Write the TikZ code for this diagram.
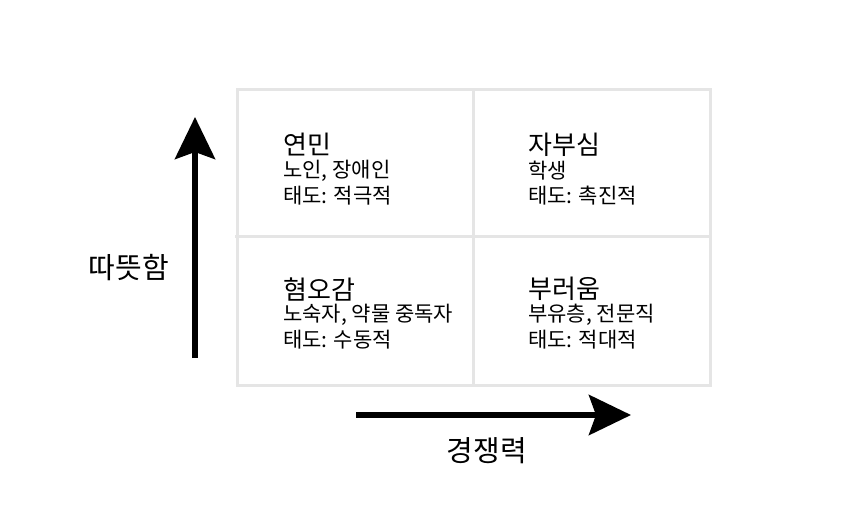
\documentclass[tikz,border=0pt]{standalone}
\usepackage{fontspec}
\setmainfont{Noto Sans CJK KR}
\usetikzlibrary{arrows.meta}
\begin{document}
\begin{tikzpicture}[x=1pt,y=-1pt,line join=miter,
  grid/.style={draw=black!10,line width=3pt},
  axis/.style={line width=6pt,-{Stealth[length=42pt,width=40pt,inset=7pt]}},
  head/.style={anchor=west,inner sep=0pt,font=\fontsize{26}{30}\selectfont},
  body/.style={anchor=west,inner sep=0pt,font=\fontsize{21}{25}\selectfont},
  axislabel/.style={inner sep=0pt,font=\fontsize{29}{33}\selectfont}]
  \useasboundingbox (0,0) rectangle (860,520);
  % quadrant grid
  \draw[grid] (237,89) rectangle (710,385);
  \draw[grid] (473,89)--(473,385);
  \draw[grid] (235,236)--(710,236);
  % axes
  \coordinate (wlo) at (195,358);
  \coordinate (whi) at (195,117);
  \coordinate (clo) at (356,415);
  \coordinate (chi) at (631,415);
  \draw[axis] (wlo)--(whi);
  \draw[axis] (clo)--(chi);
  \node[axislabel] (warmth) at (129,268) {따뜻함};
  \node[axislabel] (compet) at (487,451) {경쟁력};
  % upper left
  \node[head] (pity) at (283,145) {연민};
  \node[body] (pityA) at (283,171) {노인, 장애인};
  \node[body] (pityB) at (283,196) {태도: 적극적};
  % upper right
  \node[head] (pride) at (528,145) {자부심};
  \node[body] (prideA) at (528,171) {학생};
  \node[body] (prideB) at (528,196) {태도: 촉진적};
  % lower left
  \node[head] (disgust) at (283,289) {혐오감};
  \node[body] (disgustA) at (283,315) {노숙자, 약물 중독자};
  \node[body] (disgustB) at (283,340) {태도: 수동적};
  % lower right
  \node[head] (envy) at (528,289) {부러움};
  \node[body] (envyA) at (528,315) {부유층, 전문직};
  \node[body] (envyB) at (528,340) {태도: 적대적};
\end{tikzpicture}
\end{document}
